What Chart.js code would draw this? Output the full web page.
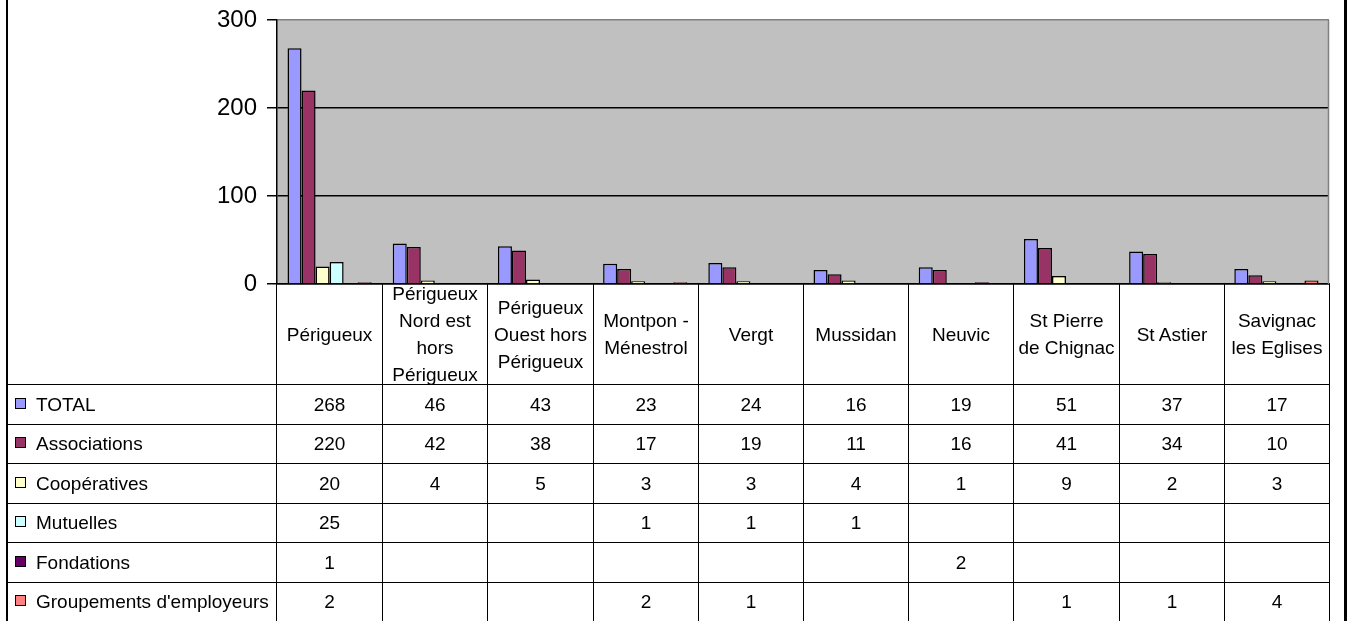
<!DOCTYPE html>
<html lang="fr">
<head>
<meta charset="utf-8">
<title>Structures par canton</title>
<script src="https://cdn.jsdelivr.net/npm/chart.js@4/dist/chart.umd.min.js"></script>
<style>
  html, body { margin: 0; padding: 0; background: #fff; }
  body { width: 1349px; height: 621px; position: relative; overflow: hidden;
         font-family: "Liberation Sans", Arial, sans-serif; color: #000; }
  #zone { position: absolute; left: 0; top: 0; width: 1349px; height: 621px; }
  .cadre { position: absolute; top: 0; height: 621px; background: #000; }
  .cel { position: absolute; box-sizing: border-box; border-right: 1px solid #000;
         border-bottom: 1px solid #000; overflow: hidden; font-size: 19px;
         display: flex; align-items: center; justify-content: center;
         text-align: center; white-space: nowrap; }
  .entete { line-height: 27px; }
  .leg { justify-content: flex-start; padding-left: 8px; }
  .cle { display: inline-block; width: 11px; height: 11px; box-sizing: border-box;
         border: 1.5px solid #000; margin-right: 10px; margin-top: -3px; }
</style>
</head>
<body>
<div id="zone"><canvas id="graphe"></canvas></div>
<div class="cadre" style="left:6px;width:2px"></div>
<div class="cadre" style="left:1344px;width:3px"></div>
<div id="tableau"></div>
<script>
// Structures de l'économie sociale par canton
(function () {
  "use strict";

  const cantons = [
    ["Périgueux"],
    ["Périgueux", "Nord est", "hors", "Périgueux"],
    ["Périgueux", "Ouest hors", "Périgueux"],
    ["Montpon -", "Ménestrol"],
    ["Vergt"],
    ["Mussidan"],
    ["Neuvic"],
    ["St Pierre", "de Chignac"],
    ["St Astier"],
    ["Savignac", "les Eglises"]
  ];

  const total        = [268, 46, 43, 23, 24, 16, 19, 51, 37, 17];
  const associations = [220, 42, 38, 17, 19, 11, 16, 41, 34, 10];
  const cooperatives = [20, 4, 5, 3, 3, 4, 1, 9, 2, 3];
  const mutuelles    = [25, null, null, 1, 1, 1, null, null, null, null];
  const fondations   = [1, null, null, null, null, null, 2, null, null, null];
  const groupements  = [2, null, null, 2, 1, null, null, 1, 1, 4];

  const series = [
    { nom: "TOTAL", val: total, coul: "#9999FF" },
    { nom: "Associations", val: associations, coul: "#993366" },
    { nom: "Coopératives", val: cooperatives, coul: "#FFFFCC" },
    { nom: "Mutuelles", val: mutuelles, coul: "#CCFFFF" },
    { nom: "Fondations", val: fondations, coul: "#660066" },
    { nom: "Groupements d'employeurs", val: groupements, coul: "#FF8080" }
  ];

  const graduations = [0, 100, 200, 300];

  Chart.defaults.font.family = "'Liberation Sans', Arial, sans-serif";
  Chart.defaults.color = "#000";

  // fond gris de la zone de traçage + bord droit
  const fond = {
    id: "fond",
    beforeDraw(c) {
      const { ctx, chartArea: a } = c;
      ctx.save();
      ctx.fillStyle = "#C0C0C0";
      ctx.fillRect(a.left, a.top, a.width, a.height);
      ctx.restore();
    },
    afterDraw(c) {
      const { ctx, chartArea: a } = c;
      ctx.save();
      ctx.strokeStyle = "#808080";
      ctx.lineWidth = 1.5;
      ctx.beginPath();
      ctx.moveTo(Math.round(a.right) - 0.5, a.top);
      ctx.lineTo(Math.round(a.right) - 0.5, a.bottom);
      ctx.stroke();
      ctx.restore();
    }
  };

  const chart = new Chart(document.getElementById("graphe"), {
    type: "bar",
    data: {
      labels: cantons,
      datasets: series.map(s => ({
        label: s.nom,
        data: s.val,
        backgroundColor: s.coul,
        borderColor: "#000",
        borderWidth: 1.5,
        categoryPercentage: 0.8,
        barPercentage: 1
      }))
    },
    options: {
      responsive: true,
      maintainAspectRatio: false,
      animation: false,
      events: [],
      layout: { autoPadding: false, padding: { top: 20, right: 20, bottom: 337, left: 0 } },
      plugins: { legend: { display: false }, tooltip: { enabled: false } },
      scales: {
        x: {
          ticks: { display: false },
          grid: { drawOnChartArea: false, drawTicks: false },
          border: { color: "#000", width: 1.5 },
          afterFit: s => { s.height = 0; }
        },
        y: {
          min: 0,
          max: 300,
          afterBuildTicks: s => { s.ticks = graduations.map(v => ({ value: v })); },
          ticks: { font: { size: 24 }, color: "#000", padding: 10 },
          grid: {
            color: ctx => (ctx.tick && ctx.tick.value === 300 ? "#808080" : "#000"),
            tickColor: "#000",
            tickLength: 10,
            lineWidth: 1.5
          },
          border: { color: "#000", width: 1.5 },
          afterFit: s => {
            s.width = 277;
            s.paddingTop = 0;
            s.paddingBottom = 0;
          }
        }
      }
    },
    plugins: [fond]
  });

  // Tableau de données sous le graphe, calé sur l'axe des x
  const tab = document.getElementById("tableau");
  const sx = chart.scales.x;
  const a = chart.chartArea;
  const pas = sx.getPixelForValue(1) - sx.getPixelForValue(0);
  const xs = [Math.round(a.left) - 1];
  for (let i = 0; i < cantons.length; i++) xs.push(Math.round(sx.getPixelForValue(i) + pas / 2));
  const gauche = 7;
  const ys = [283, 384];
  for (let r = 0; r < series.length; r++) ys.push(Math.round(ys[1] + (r + 1) * 39.5));

  function cellule(x0, x1, y0, y1, cls, html) {
    const d = document.createElement("div");
    d.className = "cel " + cls;
    d.style.left = (x0 + 1) + "px";
    d.style.top = (y0 + 1) + "px";
    d.style.width = (x1 - x0) + "px";
    d.style.height = (y1 - y0) + "px";
    d.innerHTML = html;
    tab.appendChild(d);
  }

  cellule(gauche - 1, xs[0], ys[0], ys[1], "", "");
  cantons.forEach((c, i) => {
    cellule(xs[i], xs[i + 1], ys[0], ys[1], "entete", "<div>" + c.join("<br>") + "</div>");
  });

  series.forEach((s, r) => {
    cellule(gauche - 1, xs[0], ys[r + 1], ys[r + 2], "leg",
      `<span class="cle" style="background:${s.coul}"></span>${s.nom}`);
    s.val.forEach((v, i) => {
      cellule(xs[i], xs[i + 1], ys[r + 1], ys[r + 2], "", v === null ? "" : String(v));
    });
  });
})();
</script>
</body>
</html>
